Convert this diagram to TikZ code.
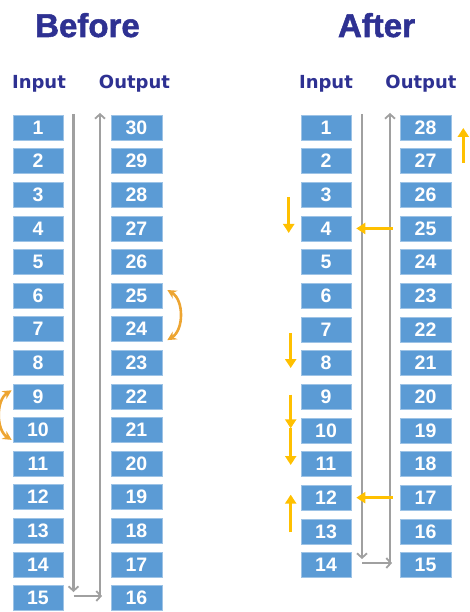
\documentclass[tikz,border=0pt]{standalone}
\usepackage{fontspec}
\setmainfont{Liberation Sans}
\newfontfamily\dvfont{DejaVu Sans}
\newfontfamily\titlefont{Liberation Sans}[BoldFeatures={FakeBold=1.6}]
\usetikzlibrary{arrows.meta,calc}
\definecolor{boxblue}{HTML}{5B9BD5}
\definecolor{titleblue}{HTML}{2E3192}
\definecolor{gold}{HTML}{FFC000}
\definecolor{swapc}{HTML}{EDA532}
\definecolor{lgray}{HTML}{A0A0A0}
\begin{document}
\begin{tikzpicture}[x=1pt,y=-1pt,
 cell/.style={fill=boxblue, draw=boxblue!60!white, line width=0.6pt, minimum width=50pt, minimum height=25pt, inner sep=0pt, text=white, font=\fontsize{19.5}{19.5}\selectfont\bfseries},
 ocell/.style={cell, minimum width=51pt},
 titletext/.style={text=titleblue, anchor=base, inner sep=0pt, font=\titlefont\fontsize{33}{33}\selectfont\bfseries},
 colhead/.style={text=titleblue, anchor=base, inner sep=0pt, font=\dvfont\fontsize{18}{18}\selectfont\bfseries},
 flow/.style={draw=lgray, line width=2.4pt, -{Straight Barb[length=4.5pt,width=10pt,line width=1.8pt]}},
 move/.style={draw=gold, line width=3.4pt, -{Triangle[length=9pt,width=11pt]}},
 swap/.style={draw=swapc, line width=2.6pt, {Stealth[length=9pt,width=9pt]}-{Stealth[length=9pt,width=9pt]}},
]
\useasboundingbox (0,0) rectangle (469,612);

% Titles
\node[titletext] (tb) at (87.5,37) {Before};
\node[titletext] (ta) at (376.5,37) {After};
\node[colhead] (hbi) at (39,89) {Input};
\node[colhead] (hbo) at (134.5,89) {Output};
\node[colhead] (hai) at (326,89) {Input};
\node[colhead] (hao) at (421,89) {Output};

% Before cells
\foreach \i in {1,...,15} {
  \pgfmathsetmacro\yy{127.5+(\i-1)*33.6}
  \pgfmathtruncatemacro\o{31-\i}
  \node[cell] (bi\i) at (38,\yy) {\i};
  \node[ocell] (bo\o) at (136.5,\yy) {\o};
}
% After cells
\foreach \i in {1,...,14} {
  \pgfmathsetmacro\yy{127.5+(\i-1)*33.65}
  \pgfmathtruncatemacro\o{29-\i}
  \node[cell] (ai\i) at (326,\yy) {\i};
  \node[ocell] (ao\o) at (425.5,\yy) {\o};
}

% Before gray flow
\coordinate (bl1) at (73.5,114);
\coordinate (bl2) at (73.5,592);
\coordinate (bh1) at (73.5,596);
\coordinate (bh2) at (102,596);
\coordinate (br1) at (100,597);
\coordinate (br2) at (100,113);
\draw[flow] (bl1) -- (bl2);
\draw[flow] (bh1) -- (bh2);
\draw[flow] (br1) -- (br2);

% After gray flow
\coordinate (al1) at (362,114);
\coordinate (al2) at (362,559);
\coordinate (ah1) at (362,563);
\coordinate (ah2) at (392,563);
\coordinate (ar1) at (390,564);
\coordinate (ar2) at (390,113);
\draw[flow] (al1) -- (al2);
\draw[flow] (ah1) -- (ah2);
\draw[flow] (ar1) -- (ar2);

% Before swaps
\coordinate (s1a) at ($(bo25.east)+(5,-5.5)$);
\coordinate (s1b) at ($(bo24.east)+(5,11)$);
\draw[swap] (s1a) .. controls (184,300) and (184,330) .. (s1b);
\coordinate (s2a) at ($(bi9.west)+(-1,-6)$);
\coordinate (s2b) at ($(bi10.west)+(-1,10)$);
\draw[swap] (s2a) .. controls (-4,400) and (-4,430) .. (s2b);

% After moves
\draw[move, shorten <=7pt, shorten >=5pt] (ao25.west) -- (ai4.east);
\draw[move, shorten <=7pt, shorten >=5pt] (ao17.west) -- (ai12.east);

\coordinate (m1a) at ($(ai3.west)+(-12,2)$);
\coordinate (m1b) at ($(ai4.west)+(-12,4.5)$);
\draw[move] (m1a) -- (m1b);
\coordinate (m2a) at ($(ai7.west)+(-10,3.5)$);
\coordinate (m2b) at ($(ai8.west)+(-10,5)$);
\draw[move] (m2a) -- (m2b);
\coordinate (m3a) at ($(ai9.west)+(-10,-2)$);
\coordinate (m3b) at ($(ai10.west)+(-10,-2)$);
\coordinate (m3c) at ($(ai11.west)+(-10,1)$);
\draw[move] (m3a) -- (m3b);
\draw[move] (m3b) -- (m3c);
\coordinate (m4a) at ($(ai13.west)+(-10,1)$);
\coordinate (m4b) at ($(ai12.west)+(-10,-3)$);
\draw[move] (m4a) -- (m4b);
\coordinate (m5a) at ($(ao27.east)+(12,2)$);
\coordinate (m5b) at ($(ao28.east)+(12,0.5)$);
\draw[move] (m5a) -- (m5b);
\end{tikzpicture}
\end{document}
